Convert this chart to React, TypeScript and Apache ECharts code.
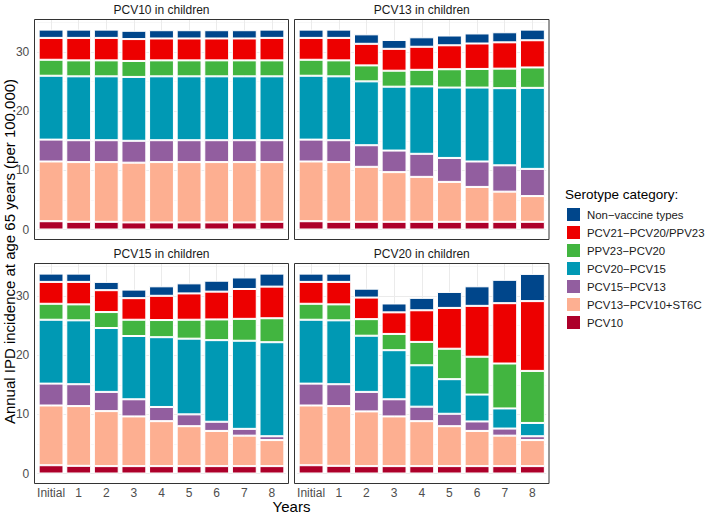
import React, { useEffect, useRef } from "react";
import * as echarts from "echarts";

const years = ["Initial", "1", "2", "3", "4", "5", "6", "7", "8"];
// stacked bottom -> top
const categories = [
  "PCV10",
  "PCV13−PCV10+ST6C",
  "PCV15−PCV13",
  "PCV20−PCV15",
  "PPV23−PCV20",
  "PCV21−PCV20/PPV23",
  "Non−vaccine types",
];
const colors = ["#AD002A", "#FDAF91", "#925E9F", "#0099B4", "#42B540", "#ED0000", "#00468B"];
const panelTitles = ["PCV10 in children", "PCV13 in children", "PCV15 in children", "PCV20 in children"];
const yTicks = [0, 10, 20, 30];

const pcv10Panel = [
  [1.4, 1.3, 1.3, 1.2, 1.2, 1.2, 1.2, 1.2, 1.3],
  [10.1, 10.1, 10.1, 10.1, 10.2, 10.2, 10.2, 10.2, 10.1],
  [3.7, 3.7, 3.7, 3.7, 3.7, 3.7, 3.7, 3.7, 3.7],
  [10.8, 10.8, 10.8, 10.8, 10.8, 10.8, 10.8, 10.8, 10.8],
  [2.7, 2.7, 2.7, 2.7, 2.7, 2.7, 2.7, 2.7, 2.7],
  [3.7, 3.8, 3.8, 3.7, 3.7, 3.7, 3.7, 3.7, 3.8],
  [1.4, 1.4, 1.4, 1.4, 1.4, 1.4, 1.4, 1.4, 1.4],
];
const pcv13Panel = [
  [1.4, 1.3, 1.3, 1.3, 1.3, 1.3, 1.3, 1.3, 1.3],
  [10.1, 10.1, 9.3, 8.4, 7.6, 6.75, 5.9, 5.1, 4.35],
  [3.7, 3.7, 3.65, 3.65, 3.9, 4.05, 4.3, 4.45, 4.6],
  [10.8, 10.8, 10.8, 10.8, 11.4, 11.9, 12.5, 13.05, 13.7],
  [2.7, 2.7, 2.7, 2.7, 2.8, 3.1, 3.15, 3.3, 3.45],
  [3.7, 3.8, 3.65, 3.7, 3.9, 4.05, 4.3, 4.45, 4.6],
  [1.4, 1.4, 1.6, 1.5, 1.6, 1.65, 1.7, 1.7, 1.8],
];
const pcv15Panel = [
  [1.4, 1.3, 1.25, 1.25, 1.25, 1.25, 1.25, 1.25, 1.25],
  [10.1, 10.1, 9.3, 8.4, 7.6, 6.75, 5.95, 5.15, 4.4],
  [3.7, 3.7, 3.25, 2.9, 2.4, 2.0, 1.55, 1.15, 0.65],
  [10.8, 10.8, 10.8, 10.7, 11.8, 12.8, 13.8, 14.9, 15.9],
  [2.7, 2.7, 2.7, 2.75, 2.9, 3.2, 3.5, 3.7, 4.05],
  [3.7, 3.8, 3.7, 3.65, 4.1, 4.45, 4.7, 5.05, 5.35],
  [1.4, 1.4, 1.4, 1.45, 1.6, 1.7, 1.85, 1.95, 2.2],
];
const pcv20Panel = [
  [1.4, 1.3, 1.25, 1.25, 1.25, 1.25, 1.25, 1.25, 1.25],
  [10.1, 10.1, 9.25, 8.4, 7.6, 6.75, 5.95, 5.15, 4.4],
  [3.7, 3.7, 3.3, 2.9, 2.45, 2.1, 1.6, 1.2, 0.65],
  [10.8, 10.8, 9.5, 8.3, 7.0, 5.85, 4.55, 3.4, 2.25],
  [2.7, 2.7, 2.8, 2.75, 3.95, 5.15, 6.4, 7.6, 8.8],
  [3.7, 3.8, 3.65, 3.65, 5.35, 6.9, 8.6, 10.2, 11.8],
  [1.4, 1.4, 1.5, 1.5, 2.1, 2.7, 3.3, 3.95, 4.6],
];
const panels = [pcv10Panel, pcv13Panel, pcv15Panel, pcv20Panel];

const FONT = "Liberation Sans, Arial, sans-serif";

// panel boxes (pixels)
const boxes = [
  { L: 34.5, R: 288.5, T: 19.5, B: 239.5 },
  { L: 294.5, R: 549, T: 19.5, B: 239.5 },
  { L: 34.5, R: 288.5, T: 263.5, B: 483.5 },
  { L: 294.5, R: 549, T: 263.5, B: 483.5 },
];
const Y_MAX = 35.51;
const Y_MIN_EXP = 1.69;

export default function App() {
  const ref = useRef<HTMLDivElement>(null);
  useEffect(() => {
    if (!ref.current) return;
    const chart = echarts.init(ref.current, null, { renderer: "svg" });

    const grids: any[] = [];
    const xAxes: any[] = [];
    const yAxes: any[] = [];
    const series: any[] = [];
    const graphics: any[] = [];

    boxes.forEach((b, i) => {
      const w = b.R - b.L;
      const h = b.B - b.T;
      const unit = w / 9.2;
      const inset = unit * 0.1;
      const pxPerVal = h / (Y_MAX + Y_MIN_EXP);
      const below = Y_MIN_EXP * pxPerVal;
      grids.push({
        left: b.L + inset,
        top: b.T,
        width: w - 2 * inset,
        height: h - below,
        containLabel: false,
      });
      const bottomRow = i >= 2;
      const leftCol = i % 2 === 0;
      xAxes.push({
        type: "category",
        gridIndex: i,
        data: years,
        offset: below,
        axisLine: { show: false },
        axisTick: { show: false, alignWithLabel: true },
        axisLabel: {
          show: bottomRow,
          color: "#4D4D4D",
          fontSize: 12,
          fontFamily: FONT,
          margin: 3,
          interval: 0,
        },
        splitLine: { show: true, alignWithLabel: true, lineStyle: { color: "#EBEBEB", width: 1 } },
      });
      yAxes.push({
        type: "value",
        gridIndex: i,
        min: 0,
        max: Y_MAX,
        interval: 10,
        axisLine: { show: false },
        axisTick: { show: false },
        axisLabel: {
          show: leftCol,
          color: "#4D4D4D",
          fontSize: 12,
          fontFamily: FONT,
          margin: 8,
          showMaxLabel: false,
          formatter: (v: number) => (yTicks.includes(v) ? String(v) : ""),
        },
        splitLine: { show: true, lineStyle: { color: "#EBEBEB", width: 1 } },
        minorTick: { show: false, splitNumber: 2 },
        minorSplitLine: { show: true, lineStyle: { color: "#F2F2F2", width: 0.6 } },
      });
      categories.forEach((c, k) => {
        series.push({
          type: "bar",
          name: c,
          xAxisIndex: i,
          yAxisIndex: i,
          stack: "p" + i,
          barWidth: "90%",
          data: panels[i][k],
          itemStyle: { color: colors[k], borderColor: "#FFFFFF", borderWidth: 1 },
          emphasis: { disabled: true },
        });
      });
      graphics.push({
        type: "rect",
        shape: { x: b.L, y: b.T, width: w, height: h },
        style: { fill: "none", stroke: "#333333", lineWidth: 1 },
        z: 100,
      });
      graphics.push({
        type: "text",
        x: (b.L + b.R) / 2,
        y: b.T - 9.5,
        style: {
          text: panelTitles[i],
          fontSize: 12,
          fontFamily: FONT,
          fill: "#1A1A1A",
          textAlign: "center",
          textVerticalAlign: "middle",
        },
      });
    });

    graphics.push({
      type: "text",
      x: 9,
      y: 251.5,
      rotation: Math.PI / 2,
      style: {
        text: "Annual IPD incidence at age 65 years (per 100.000)",
        fontSize: 15,
        fontFamily: FONT,
        fill: "#000000",
        textAlign: "center",
        textVerticalAlign: "middle",
      },
    });
    graphics.push({
      type: "text",
      x: 291.5,
      y: 506,
      style: {
        text: "Years",
        fontSize: 15,
        fontFamily: FONT,
        fill: "#000000",
        textAlign: "center",
        textVerticalAlign: "middle",
      },
    });
    graphics.push({
      type: "text",
      x: 565,
      y: 194,
      style: {
        text: "Serotype category:",
        fontSize: 13.5,
        fontFamily: FONT,
        fill: "#000000",
        textAlign: "left",
        textVerticalAlign: "middle",
      },
    });

    chart.setOption({
      animation: false,
      backgroundColor: "#FFFFFF",
      grid: grids,
      xAxis: xAxes,
      yAxis: yAxes,
      series,
      legend: {
        data: categories.slice().reverse(),
        orient: "vertical",
        left: 565,
        top: 206,
        padding: 0,
        icon: "rect",
        itemWidth: 15,
        itemHeight: 15,
        itemGap: 1,
        selectedMode: false,
        textStyle: { fontSize: 11.4, fontFamily: FONT, color: "#1A1A1A", padding: [0, 0, 0, 1] },
      },
      graphic: graphics,
    });
    return () => chart.dispose();
  }, []);
  return (
    <div
      ref={ref}
      style={{ position: "absolute", left: 0, top: 0, width: 708, height: 513 }}
    />
  );
}
